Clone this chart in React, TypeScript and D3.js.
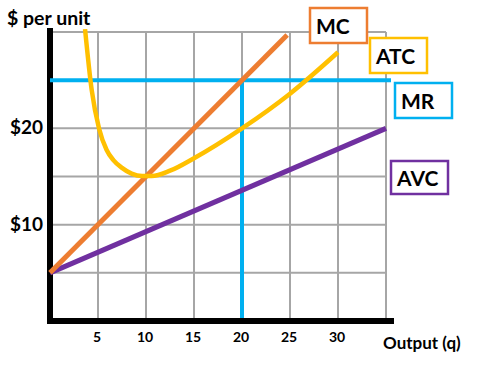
import * as d3 from "d3";
import React, { useEffect, useRef } from "react";

// output quantities and costs
const mcLine = [[0, 5], [24.7, 29.7]];
const avcLine = [[0, 5], [35, 20]];
const atcCurve = [[3.65, 30.3], [4.34, 24], [5.1, 20], [5.9, 17.75], [6.6, 16.7], [7.5, 15.9], [8.5, 15.3], [9.6, 15.05], [10.6, 15.05], [12.5, 15.6], [15, 16.9], [20, 20], [25, 23.6], [30, 27.9]];
const mrPrice = 25;
const mrQty = 20;
const xTicks = [5, 10, 15, 20, 25, 30];
const yTicks = [10, 20];
const gridX = [5, 10, 15, 20, 25, 30, 35];
const gridY = [5, 10, 15, 20, 25, 30];

const labels = [
    { text: "MC", color: "#ED7D31", x: 310, y: 8, w: 57, h: 35 },
    { text: "ATC", color: "#FFC000", x: 370, y: 38, w: 57, h: 35 },
    { text: "MR", color: "#00B0F0", x: 395, y: 83, w: 57, h: 35 },
    { text: "AVC", color: "#7030A0", x: 391, y: 161, w: 57, h: 33 },
];

function drawChart(svgRef: React.RefObject<SVGSVGElement>) {
    const width = 480;
    const height = 370;
    const font = "Lato, 'Open Sans', sans-serif";

    let svg = d3.select(svgRef.current)
        .attr("width", width)
        .attr("height", height);

    svg.selectAll("*").remove();

    let x = d3.scaleLinear().domain([0, 35]).range([50, 386]);
    let y = d3.scaleLinear().domain([0, 30]).range([321, 32]);

    // grid
    svg.append("g").selectAll("line")
        .data(gridX)
        .enter().append("line")
        .attr("x1", d => x(d)).attr("x2", d => x(d))
        .attr("y1", y(30)).attr("y2", y(0))
        .attr("stroke", "#A6A6A6").attr("stroke-width", 2);
    svg.append("g").selectAll("line")
        .data(gridY)
        .enter().append("line")
        .attr("x1", x(0)).attr("x2", x(35))
        .attr("y1", d => y(d)).attr("y2", d => y(d))
        .attr("stroke", "#A6A6A6").attr("stroke-width", 2);

    // axes
    svg.append("line")
        .attr("x1", x(0)).attr("x2", x(0))
        .attr("y1", 28).attr("y2", 323)
        .attr("stroke", "#000").attr("stroke-width", 6);
    svg.append("line")
        .attr("x1", 47).attr("x2", 394)
        .attr("y1", y(0)).attr("y2", y(0))
        .attr("stroke", "#000").attr("stroke-width", 6);

    let line = d3.line<number[]>().x(d => x(d[0])).y(d => y(d[1]));

    // MR and the q line
    svg.append("line")
        .attr("x1", x(0)).attr("x2", 391)
        .attr("y1", y(mrPrice)).attr("y2", y(mrPrice))
        .attr("stroke", "#00B0F0").attr("stroke-width", 4);
    svg.append("line")
        .attr("x1", x(mrQty)).attr("x2", x(mrQty))
        .attr("y1", y(mrPrice)).attr("y2", y(0) - 3)
        .attr("stroke", "#00B0F0").attr("stroke-width", 4);

    svg.append("path")
        .attr("d", line(avcLine))
        .attr("fill", "none").attr("stroke", "#7030A0").attr("stroke-width", 5);
    svg.append("path")
        .attr("d", line(mcLine))
        .attr("fill", "none").attr("stroke", "#ED7D31").attr("stroke-width", 5);
    svg.append("path")
        .attr("d", line.curve(d3.curveMonotoneX)(atcCurve))
        .attr("fill", "none").attr("stroke", "#FFC000").attr("stroke-width", 4.5);

    // tick labels
    svg.append("g").selectAll("text")
        .data(xTicks)
        .enter().append("text")
        .attr("x", d => x(d) - 1)
        .attr("y", 342)
        .attr("text-anchor", "middle")
        .style("font", `bold 14px ${font}`)
        .text(d => d);
    svg.append("g").selectAll("text")
        .data(yTicks)
        .enter().append("text")
        .attr("x", 43)
        .attr("y", d => y(d) + 6)
        .attr("text-anchor", "end")
        .style("font", `bold 19px ${font}`)
        .text(d => "$" + d);

    svg.append("text")
        .attr("x", 7).attr("y", 25)
        .style("font", `bold 19.5px ${font}`)
        .text("$ per unit");
    svg.append("text")
        .attr("x", 383).attr("y", 349)
        .style("font", `bold 17px ${font}`)
        .text("Output (q)");

    // curve labels
    let lab = svg.append("g").selectAll("g")
        .data(labels)
        .enter().append("g");
    lab.append("rect")
        .attr("x", d => d.x).attr("y", d => d.y)
        .attr("width", d => d.w).attr("height", d => d.h)
        .attr("fill", "#fff").attr("stroke", d => d.color).attr("stroke-width", 2.5);
    lab.append("text")
        .attr("x", d => d.x + 6).attr("y", d => d.y + d.h / 2 + 8)
        .style("font", `bold 21px ${font}`)
        .text(d => d.text);
}

export default function App() {
    const svg = useRef<SVGSVGElement>(null);
    useEffect(() => {
        drawChart(svg);
    });
    return (
        <div style={{ position: "absolute", left: 0, top: 0, background: "#fff" }}>
            <svg ref={svg}></svg>
        </div>
    );
}
